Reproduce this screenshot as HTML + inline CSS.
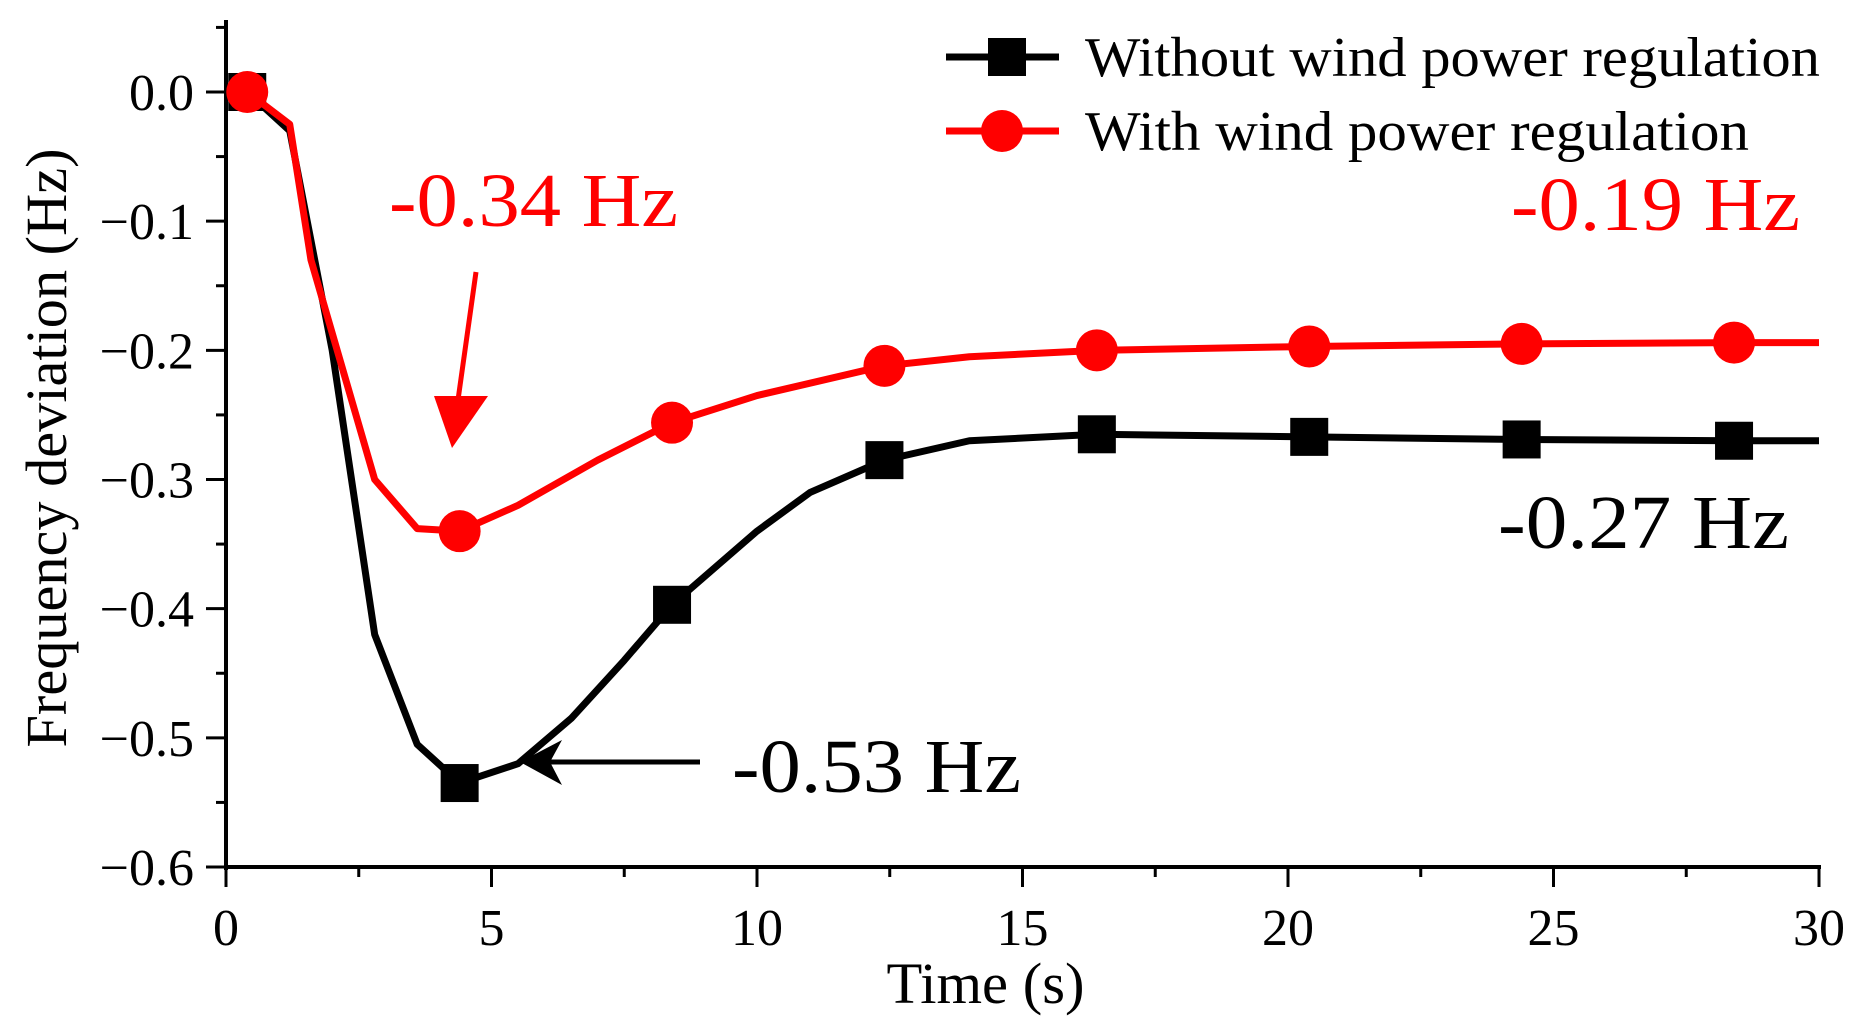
<!DOCTYPE html>
<html><head><meta charset="utf-8"><style>
html,body{margin:0;padding:0;background:#fff;}
svg{display:block;font-family:"Liberation Serif",serif;}
</style></head><body>
<svg id="chart" width="1866" height="1030" viewBox="0 0 1866 1030" xmlns="http://www.w3.org/2000/svg">
<g id="axes"></g>
<g id="series"></g>
<g id="legend">
  <line x1="946" y1="57" x2="1059" y2="57" stroke="#000" stroke-width="7"/>
  <rect x="988" y="38" width="38" height="38" fill="#000"/>
  <text x="1085" y="76" font-size="56" textLength="735" lengthAdjust="spacingAndGlyphs">Without wind power regulation</text>
  <line x1="946" y1="131" x2="1059" y2="131" stroke="#f00" stroke-width="7"/>
  <ellipse cx="1002" cy="131" rx="21" ry="21" fill="#f00"/>
  <text x="1085" y="150" font-size="56" textLength="664" lengthAdjust="spacingAndGlyphs">With wind power regulation</text>
</g>
<g id="annotations">
  <text x="389" y="226" font-size="76" fill="#f00" textLength="289" lengthAdjust="spacingAndGlyphs">-0.34 Hz</text>
  <line x1="476" y1="272" x2="458" y2="400" stroke="#f00" stroke-width="5"/>
  <polygon points="434,396 488,396 452,448" fill="#f00"/>
  <text x="1800" y="230" font-size="76" fill="#f00" text-anchor="end" textLength="289" lengthAdjust="spacingAndGlyphs">-0.19 Hz</text>
  <text x="1789" y="548" font-size="76" fill="#000" text-anchor="end" textLength="291" lengthAdjust="spacingAndGlyphs">-0.27 Hz</text>
  <text x="732" y="792" font-size="76" fill="#000" textLength="289" lengthAdjust="spacingAndGlyphs">-0.53 Hz</text>
  <line x1="700" y1="762" x2="540" y2="762" stroke="#000" stroke-width="5"/>
  <polygon points="520,762 562,740 550,762 562,785" fill="#000"/>
</g>
</svg>
<script>
const xTicks=[0,5,10,15,20,25,30];
const yTicks=[0.0,-0.1,-0.2,-0.3,-0.4,-0.5,-0.6];
const yTickLabels=["0.0","\u22120.1","\u22120.2","\u22120.3","\u22120.4","\u22120.5","\u22120.6"];
const tWithout=[0.4,1.2,2,2.8,3.6,4.4,5.5,6.5,7.5,8.4,10,11,12.4,14,16.4,20.4,24.4,28.4,30];
const vWithout=[0,-0.03,-0.2,-0.42,-0.505,-0.535,-0.52,-0.485,-0.44,-0.397,-0.34,-0.31,-0.285,-0.27,-0.265,-0.267,-0.269,-0.27,-0.27];
const tWith=[0.4,1.2,1.6,2.8,3.6,4.4,5.5,7,8.4,10,12.4,14,16.4,20.4,24.4,28.4,30];
const vWith=[0,-0.025,-0.13,-0.3,-0.338,-0.34,-0.32,-0.285,-0.256,-0.235,-0.212,-0.205,-0.2,-0.197,-0.195,-0.194,-0.194];
const markerTimes=[0.4,4.4,8.4,12.4,16.4,20.4,24.4,28.4];
const NS="http://www.w3.org/2000/svg";
const X0=226,X1=1819,Y0=92,Y1=867;
function sx(t){return X0+(t/30)*(X1-X0);}
function sy(v){return Y0+(v/-0.6)*(Y1-Y0);}
function mk(tag,attrs,parent){const e=document.createElementNS(NS,tag);for(const k in attrs)e.setAttribute(k,attrs[k]);parent.appendChild(e);return e;}
const axes=document.getElementById('axes');
let a=mk('line',{x1:X0,y1:20,x2:X0,y2:Y1+3,stroke:'#000','stroke-width':4},axes);


a=mk('line',{x1:X0-2,y1:Y1,x2:X1+2,y2:Y1,stroke:'#000','stroke-width':4},axes);


for(let i=0;i<=12;i++){const t=i*2.5;const major=i%2===0;
  mk('line',{x1:sx(t),y1:Y1,x2:sx(t),y2:Y1+(major?20:10),stroke:'#000','stroke-width':3},axes);}
xTicks.forEach(t=>{const e=mk('text',{x:sx(t),y:Y1+78,'font-size':52,'text-anchor':'middle'},axes);e.textContent=t;
  
  });
for(let i=0;i<=13;i++){const v=0.05-i*0.05;const y=sy(v);const major=(i%2===1);
  mk('line',{x1:X0,y1:y,x2:X0-(major?20:10),y2:y,stroke:'#000','stroke-width':3},axes);}
yTicks.forEach((v,i)=>{const e=mk('text',{x:X0-32,y:sy(v)+18,'font-size':52,'text-anchor':'end'},axes);e.textContent=yTickLabels[i];
  
  });
let tt=mk('text',{x:(X0+X1)/2-37,y:1003,'font-size':58,'text-anchor':'middle',textLength:198,lengthAdjust:'spacingAndGlyphs'},axes);tt.textContent='Time (s)';


tt=mk('text',{x:0,y:0,'font-size':58,'text-anchor':'middle',textLength:599,lengthAdjust:'spacingAndGlyphs',transform:'translate(66,448) rotate(-90)'},axes);tt.textContent='Frequency deviation (Hz)';


const ser=document.getElementById('series');
function interp(ts,vs,t){for(let i=0;i<ts.length-1;i++){if(t>=ts[i]&&t<=ts[i+1]){return vs[i]+(vs[i+1]-vs[i])*(t-ts[i])/(ts[i+1]-ts[i]);}}return vs[vs.length-1];}
function draw(ts,vs,color,name,square){
  const p=mk('polyline',{points:ts.map((t,i)=>sx(t)+','+sy(vs[i])).join(' '),fill:'none',stroke:color,'stroke-width':7,'stroke-linejoin':'round'},ser);
  
  
  markerTimes.forEach(t=>{const v=interp(ts,vs,t);let m;
    if(square)m=mk('rect',{x:sx(t)-19,y:sy(v)-19,width:38,height:38,fill:color},ser);
    else m=mk('circle',{cx:sx(t),cy:sy(v),r:21,fill:color},ser);
    
    });
}
draw(tWithout,vWithout,'#000','without-regulation',true);
draw(tWith,vWith,'#f00','with-regulation',false);
</script>
</body></html>
